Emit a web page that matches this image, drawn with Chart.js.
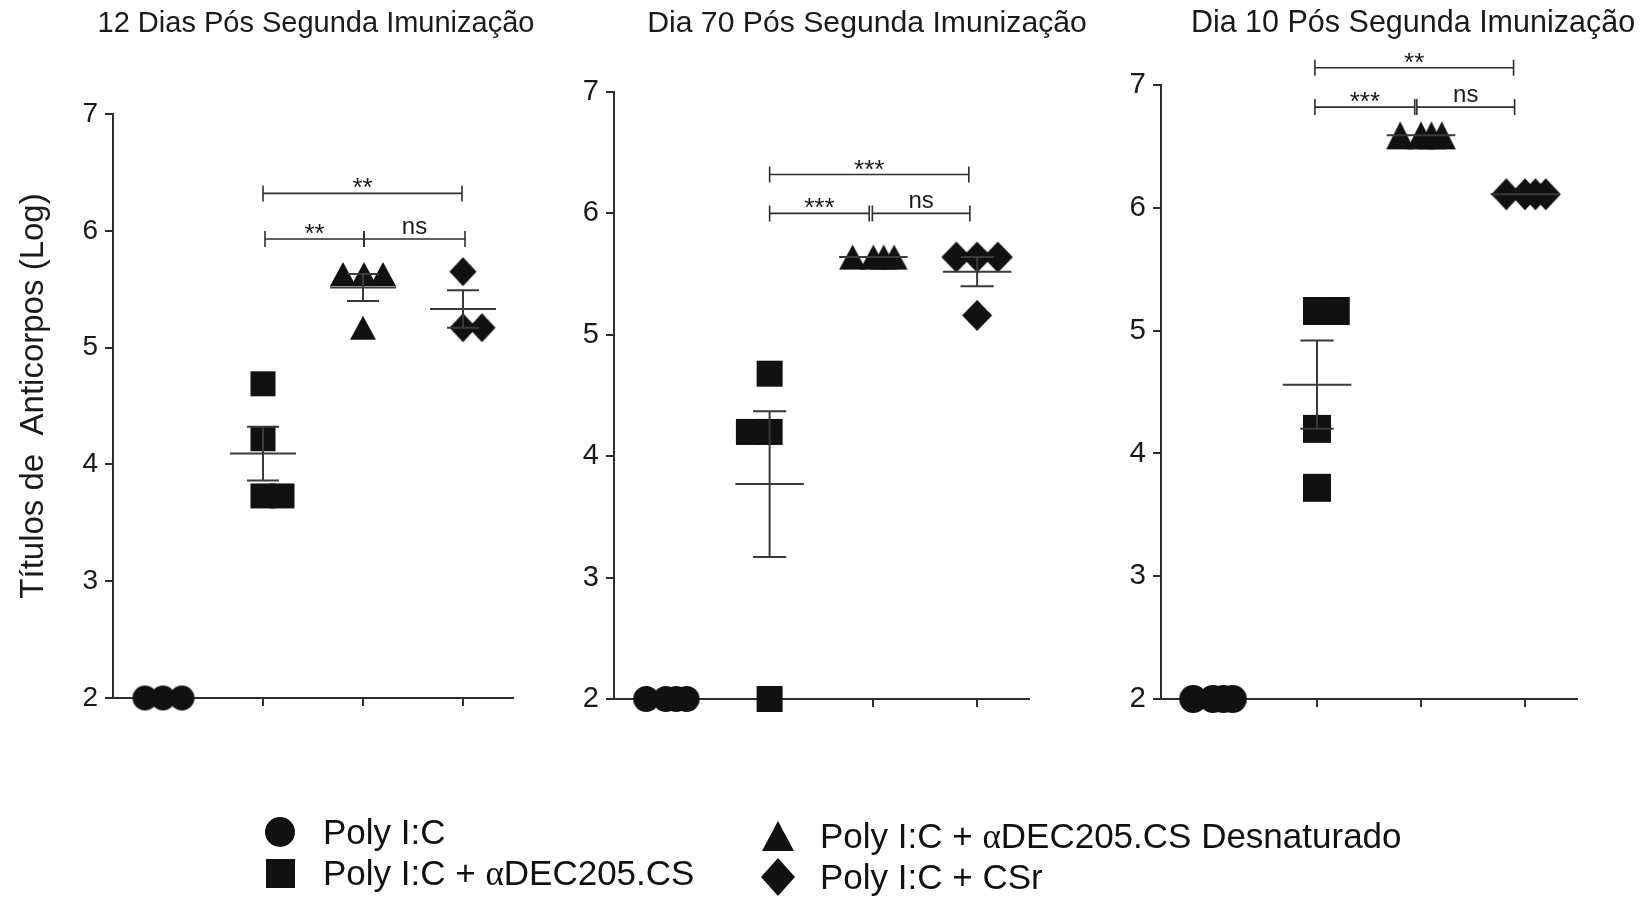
<!DOCTYPE html>
<html>
<head>
<meta charset="utf-8">
<script src="https://cdn.jsdelivr.net/npm/chart.js@4.4.1/dist/chart.umd.min.js"></script>
<style>
  html, body { margin: 0; padding: 0; background: #fff; width: 1646px; height: 898px; overflow: hidden; }
  canvas.panel { position: absolute; left: 0; top: 0; }
  .lg { position: absolute; font-family: 'Liberation Sans', Arial, sans-serif; font-size: 35px; line-height: 35px; color: #111; white-space: nowrap; }
  .lg .a { font-family: 'Liberation Serif', 'Times New Roman', serif; }
  .mk { position: absolute; background: #111; }
</style>
</head>
<body>
<canvas id="c1" class="panel" width="1646" height="898"></canvas>
<canvas id="c2" class="panel" width="1646" height="898"></canvas>
<canvas id="c3" class="panel" width="1646" height="898"></canvas>
<div id="legend"></div>
<script>
// ---------------- data ----------------
const groupNames = ['Poly I:C', 'Poly I:C + αDEC205.CS', 'Poly I:C + αDEC205.CS Desnaturado', 'Poly I:C + CSr'];
const panelTitles = ['12 Dias Pós Segunda Imunização', 'Dia 70 Pós Segunda Imunização', 'Dia 10 Pós Segunda Imunização'];
const yAxisTitle = 'Títulos de  Anticorpos (Log)';
const yTickValues = [2, 3, 4, 5, 6, 7];
const categories = [1, 2, 3, 4];

// Panel 1 : 12 dias
const p1CircleY   = [2, 2, 2];
const p1CircleX   = [0.82, 1.0, 1.19];
const p1SquareY   = [4.69, 4.22, 3.73, 3.73];
const p1SquareX   = [2.0, 2.0, 2.0, 2.19];
const p1TriangleY = [5.63, 5.63, 5.63, 5.17];
const p1TriangleX = [2.8, 3.01, 3.2, 3.0];
const p1DiamondY  = [5.65, 5.17, 5.17];
const p1DiamondX  = [4.0, 4.0, 4.19];
const p1Sig = [[2.0, 3.99, 6.32, '**'], [2.02, 3.01, 5.93, '**'], [3.01, 4.02, 5.93, 'ns']];

// Panel 2 : dia 70
const p2CircleY   = [2, 2, 2, 2];
const p2CircleX   = [0.81, 1.0, 1.1, 1.2];
const p2SquareY   = [4.68, 4.2, 4.2, 2];
const p2SquareX   = [2.0, 1.8, 2.0, 2.0];
const p2TriangleY = [5.64, 5.64, 5.64, 5.64];
const p2TriangleX = [2.8, 3.0, 3.1, 3.2];
const p2DiamondY  = [5.64, 5.64, 5.64, 5.16];
const p2DiamondX  = [3.8, 4.0, 4.2, 4.0];
const p2Sig = [[2.0, 3.92, 6.32, '***'], [2.0, 2.96, 6.0, '***'], [2.99, 3.93, 6.0, 'ns']];

// Panel 3 : dia 10
const p3CircleY   = [2, 2, 2, 2];
const p3CircleX   = [0.81, 1.0, 1.1, 1.19];
const p3SquareY   = [5.16, 5.16, 4.2, 3.72];
const p3SquareX   = [2.0, 2.18, 2.0, 2.0];
const p3TriangleY = [6.59, 6.59, 6.59, 6.59];
const p3TriangleX = [2.8, 3.0, 3.1, 3.2];
const p3DiamondY  = [6.11, 6.11, 6.11, 6.11];
const p3DiamondX  = [3.82, 4.0, 4.1, 4.2];
const p3Sig = [[1.98, 3.89, 7.14, '**'], [1.98, 2.94, 6.82, '***'], [2.96, 3.9, 6.82, 'ns']];

// ---------------- styling / layout ----------------
const W = 1646, H = 898;
const FONT = "'Liberation Sans', Arial, sans-serif";
const AX = '#2e2e2e';
const INK = '#111111';

function makeMarker(shape, w, h) {
  const c = document.createElement('canvas');
  c.width = Math.ceil(w) + 2; c.height = Math.ceil(h) + 2;
  const g = c.getContext('2d');
  const cx = c.width / 2, cy = c.height / 2;
  g.fillStyle = INK;
  g.beginPath();
  if (shape === 'circle') g.ellipse(cx, cy, w / 2, h / 2, 0, 0, Math.PI * 2);
  else if (shape === 'square') g.rect(cx - w / 2, cy - h / 2, w, h);
  else if (shape === 'triangle') { g.moveTo(cx, cy - h / 2); g.lineTo(cx + w / 2, cy + h / 2); g.lineTo(cx - w / 2, cy + h / 2); g.closePath(); }
  else { g.moveTo(cx, cy - h / 2); g.lineTo(cx + w / 2, cy); g.lineTo(cx, cy + h / 2); g.lineTo(cx - w / 2, cy); g.closePath(); }
  g.fill();
  return c;
}

function pts(xs, ys) { return ys.map((v, i) => ({ x: xs[i], y: v })); }

function meanSem(vals) {
  const n = vals.length;
  const m = vals.reduce((a, b) => a + b, 0) / n;
  const sd = Math.sqrt(vals.reduce((a, b) => a + (b - m) * (b - m), 0) / (n - 1));
  return { m, sem: sd / Math.sqrt(n) };
}

const panels = [
  { id: 'c1', title: panelTitles[0], titleX: 316, titleSize: 29, tickSize: 28, area: { left: 113, top: 114, right: 513, bottom: 698 }, showYTitle: true,
    groups: [[p1CircleX, p1CircleY], [p1SquareX, p1SquareY], [p1TriangleX, p1TriangleY], [p1DiamondX, p1DiamondY]],
    sig: p1Sig, sizes: { circle: [25, 25], square: [25, 25], triangle: [26, 24], diamond: [27, 29] } },
  { id: 'c2', title: panelTitles[1], titleX: 867, titleSize: 30.2, tickSize: 29, area: { left: 614, top: 92, right: 1029, bottom: 699 }, showYTitle: false,
    groups: [[p2CircleX, p2CircleY], [p2SquareX, p2SquareY], [p2TriangleX, p2TriangleY], [p2DiamondX, p2DiamondY]],
    sig: p2Sig, sizes: { circle: [26, 26], square: [26, 26], triangle: [27, 25], diamond: [30, 31] } },
  { id: 'c3', title: panelTitles[2], titleX: 1413, titleSize: 30.5, tickSize: 29.5, area: { left: 1161, top: 85, right: 1577, bottom: 699 }, showYTitle: false,
    groups: [[p3CircleX, p3CircleY], [p3SquareX, p3SquareY], [p3TriangleX, p3TriangleY], [p3DiamondX, p3DiamondY]],
    sig: p3Sig, sizes: { circle: [28, 28], square: [28, 28], triangle: [28, 28], diamond: [30, 32] } }
];
const shapes = ['circle', 'square', 'triangle', 'diamond'];

function decorPlugin(cfg) {
  return {
    id: 'decor' + cfg.id,
    afterDatasetsDraw(chart) {
      const { ctx } = chart;
      const xs = chart.scales.x, ys = chart.scales.y;
      ctx.save();
      // mean +/- SEM
      ctx.strokeStyle = '#3a3a3a';
      ctx.lineWidth = 2;
      cfg.groups.forEach((g, gi) => {
        const { m, sem } = meanSem(g[1]);
        if (sem === 0 && m === ys.min) return;
        const c = categories[gi];
        const yM = ys.getPixelForValue(m);
        ctx.beginPath();
        ctx.moveTo(xs.getPixelForValue(c - 0.33), yM);
        ctx.lineTo(xs.getPixelForValue(c + 0.33), yM);
        ctx.stroke();
        if (sem > 0) {
          const yU = ys.getPixelForValue(m + sem), yL = ys.getPixelForValue(m - sem);
          const xc = xs.getPixelForValue(c);
          ctx.beginPath();
          ctx.moveTo(xc, yU); ctx.lineTo(xc, yL);
          ctx.moveTo(xs.getPixelForValue(c - 0.16), yU); ctx.lineTo(xs.getPixelForValue(c + 0.16), yU);
          ctx.moveTo(xs.getPixelForValue(c - 0.16), yL); ctx.lineTo(xs.getPixelForValue(c + 0.16), yL);
          ctx.stroke();
        }
      });
      // significance brackets
      ctx.strokeStyle = AX;
      ctx.lineWidth = 1.6;
      ctx.fillStyle = '#1a1a1a';
      ctx.textAlign = 'center';
      cfg.sig.forEach(([a, b, v, lab]) => {
        const x1 = xs.getPixelForValue(a), x2 = xs.getPixelForValue(b), yy = ys.getPixelForValue(v);
        ctx.beginPath();
        ctx.moveTo(x1, yy); ctx.lineTo(x2, yy);
        ctx.moveTo(x1, yy - 8); ctx.lineTo(x1, yy + 8);
        ctx.moveTo(x2, yy - 8); ctx.lineTo(x2, yy + 8);
        ctx.stroke();
        ctx.textBaseline = 'alphabetic';
        if (lab === 'ns') {
          ctx.font = '24px ' + FONT;
          ctx.fillText(lab, (x1 + x2) / 2, yy - 5);
        } else {
          ctx.font = '26px ' + FONT;
          ctx.fillText(lab, (x1 + x2) / 2, yy + 3);
        }
      });
      // panel title
      ctx.font = cfg.titleSize + 'px ' + FONT;
      ctx.fillStyle = '#1a1a1a';
      ctx.textAlign = 'center';
      ctx.textBaseline = 'alphabetic';
      ctx.fillText(cfg.title, cfg.titleX, 32);
      // y axis title
      if (cfg.showYTitle) {
        ctx.translate(34, 396);
        ctx.rotate(-Math.PI / 2);
        ctx.font = '33px ' + FONT;
        ctx.textBaseline = 'middle';
        ctx.fillText(yAxisTitle, 0, 0);
      }
      ctx.restore();
    }
  };
}

const Y_W = 70, X_H = 10;
panels.forEach(cfg => {
  const datasets = cfg.groups.map((g, gi) => ({
    label: groupNames[gi],
    data: pts(g[0], g[1]),
    pointStyle: makeMarker(shapes[gi], cfg.sizes[shapes[gi]][0], cfg.sizes[shapes[gi]][1]),
    pointRadius: 12,
    clip: false
  }));
  new Chart(document.getElementById(cfg.id), {
    type: 'scatter',
    data: { datasets },
    options: {
      responsive: false,
      animation: false,
      events: [],
      layout: { padding: { left: cfg.area.left - Y_W, top: cfg.area.top, right: W - cfg.area.right, bottom: H - cfg.area.bottom - X_H } },
      plugins: { legend: { display: false }, tooltip: { enabled: false }, title: { display: false } },
      scales: {
        x: {
          type: 'linear', min: 0.5, max: 4.5,
          afterBuildTicks: s => { s.ticks = categories.map(v => ({ value: v })); },
          afterFit: s => { s.height = X_H; },
          ticks: { display: false },
          grid: { drawOnChartArea: false, drawTicks: true, tickLength: 8, color: AX, lineWidth: 2 },
          border: { display: true, color: AX, width: 2 }
        },
        y: {
          type: 'linear', min: 2, max: 7,
          afterBuildTicks: s => { s.ticks = yTickValues.map(v => ({ value: v })); },
          afterFit: s => { s.width = Y_W; },
          ticks: { font: { family: FONT, size: cfg.tickSize }, color: '#1a1a1a', padding: 7 },
          grid: { drawOnChartArea: false, drawTicks: true, tickLength: 8, color: AX, lineWidth: 2 },
          border: { display: true, color: AX, width: 2 }
        }
      }
    },
    plugins: [decorPlugin(cfg)]
  });
});

// ---------------- legend (HTML) ----------------
const legendItems = [
  { shape: 'circle', mx: 280, my: 832, tx: 323, ty: 831, name: groupNames[0] },
  { shape: 'square', mx: 280, my: 873, tx: 323, ty: 872, name: groupNames[1] },
  { shape: 'triangle', mx: 778, my: 836, tx: 820, ty: 835, name: groupNames[2] },
  { shape: 'diamond', mx: 778, my: 877, tx: 820, ty: 876, name: groupNames[3] }
];
const legendMarkerSize = { circle: [30, 30], square: [29, 29], triangle: [32, 30], diamond: [34, 38] };
const clips = {
  circle: 'circle(50% at 50% 50%)',
  square: 'none',
  triangle: 'polygon(50% 0, 100% 100%, 0 100%)',
  diamond: 'polygon(50% 0, 100% 50%, 50% 100%, 0 50%)'
};
const lg = document.getElementById('legend');
legendItems.forEach(it => {
  const [w, h] = legendMarkerSize[it.shape];
  const m = document.createElement('div');
  m.className = 'mk';
  m.style.left = (it.mx - w / 2) + 'px'; m.style.top = (it.my - h / 2) + 'px';
  m.style.width = w + 'px'; m.style.height = h + 'px';
  if (clips[it.shape] !== 'none') m.style.clipPath = clips[it.shape];
  lg.appendChild(m);
  const t = document.createElement('div');
  t.className = 'lg';
  t.style.left = it.tx + 'px'; t.style.top = (it.ty - 17.5) + 'px';
  t.innerHTML = it.name.replace('α', '<span class="a">α</span>');
  lg.appendChild(t);
});
</script>
</body>
</html>
